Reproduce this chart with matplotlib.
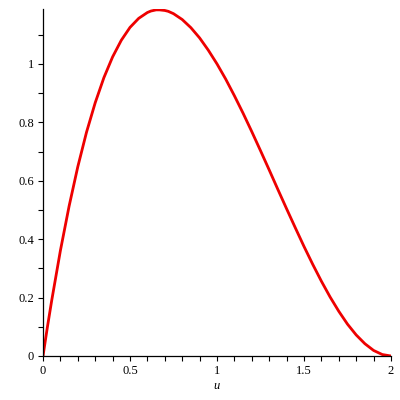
import numpy as np
import matplotlib.pyplot as plt

# values
u = [0, 0.025, 0.05, 0.1, 0.15, 0.2, 0.25, 0.3, 0.35, 0.4, 0.45, 0.5, 0.55, 0.6,
     0.62, 0.65, 0.67, 0.7, 0.72, 0.75, 0.8, 0.85, 0.9, 0.95, 1.0, 1.05, 1.1, 1.15,
     1.2, 1.25, 1.3, 1.35, 1.4, 1.45, 1.5, 1.55, 1.6, 1.65, 1.7, 1.75, 1.8, 1.85,
     1.9, 1.95, 2.0]
y = [0, 0.098, 0.190, 0.361, 0.513, 0.648, 0.766, 0.867, 0.953, 1.024, 1.081,
     1.125, 1.156, 1.176, 1.181, 1.185, 1.185, 1.183, 1.180, 1.172, 1.152, 1.124,
     1.089, 1.047, 1.0, 0.948, 0.891, 0.831, 0.768, 0.703, 0.637, 0.570, 0.504,
     0.439, 0.375, 0.314, 0.256, 0.202, 0.153, 0.109, 0.072, 0.042, 0.019, 0.005, 0]
xticks = [0, 0.5, 1, 1.5, 2]
xticklabels = ['0', '0.5', '1', '1.5', '2']
yticks = [0, 0.2, 0.4, 0.6, 0.8, 1]
yticklabels = ['0', '0.2', '0.4', '0.6', '0.8', '1']

plt.rcParams['font.family'] = 'Liberation Serif'

fig = plt.figure(figsize=(4, 4), dpi=100)
ax = fig.add_axes([0.1075, 0.11, 0.87, 0.8675])
ax.plot(u, y, color='#ee0000', linewidth=2.0, solid_joinstyle='round',
        solid_capstyle='round')

ax.set_xlim(0, 2)
ax.set_ylim(0, 1.188)
ax.set_xticks(xticks)
ax.set_xticklabels(xticklabels)
ax.set_yticks(yticks)
ax.set_yticklabels(yticklabels)
ax.set_xticks(np.arange(0, 2.01, 0.1), minor=True)
ax.set_yticks(np.arange(0, 1.18, 0.1), minor=True)
ax.tick_params(which='both', direction='out', length=3.5, width=0.8, labelsize=9, pad=3)

for s in ['top', 'right']:
    ax.spines[s].set_visible(False)
for s in ['left', 'bottom']:
    ax.spines[s].set_linewidth(0.9)

ax.set_xlabel('u', fontstyle='italic', fontsize=9, labelpad=2)

fig.savefig('out.png', dpi=100)
